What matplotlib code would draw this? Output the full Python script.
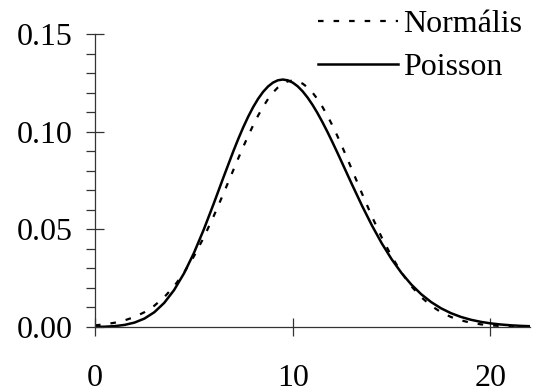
import matplotlib
matplotlib.use("Agg")
import matplotlib.pyplot as plt
from matplotlib.ticker import MultipleLocator

plt.rcParams["font.family"] = ["Liberation Serif", "DejaVu Serif"]

x = [0, 0.5, 1, 1.5, 2, 2.5, 3, 3.5, 4, 4.5, 5, 5.5, 6, 6.5, 7, 7.25, 7.5, 7.75,
     8, 8.25, 8.5, 8.75, 9, 9.25, 9.5, 9.75, 10, 10.25, 10.5, 10.75, 11, 11.25,
     11.5, 11.75, 12, 12.25, 12.5, 12.75, 13, 13.5, 14, 14.5, 15, 15.5, 16,
     16.5, 17, 17.5, 18, 18.5, 19, 19.5, 20, 20.5, 21, 21.5, 22]

normal = [0.00085, 0.00138, 0.00220, 0.00341, 0.00514, 0.00758, 0.01089, 0.01526,
          0.02085, 0.02780, 0.03615, 0.04584, 0.05669, 0.06838, 0.08044, 0.08644,
          0.09230, 0.09795, 0.10329, 0.10825, 0.11274, 0.11668, 0.12001, 0.12266,
          0.12459, 0.12577, 0.12616, 0.12577, 0.12459, 0.12266, 0.12001, 0.11668,
          0.11274, 0.10825, 0.10329, 0.09795, 0.09230, 0.08644, 0.08044, 0.06838,
          0.05669, 0.04584, 0.03615, 0.02780, 0.02085, 0.01526, 0.01089, 0.00758,
          0.00514, 0.00341, 0.00220, 0.00138, 0.00085, 0.00051, 0.00030, 0.00017,
          0.00009]

poisson = [0.00005, 0.00016, 0.00045, 0.00108, 0.00227, 0.00432, 0.00757, 0.01234,
           0.01892, 0.02743, 0.03783, 0.04987, 0.06306, 0.07672, 0.09008, 0.09638,
           0.10230, 0.10773, 0.11260, 0.11683, 0.12035, 0.12312, 0.12511, 0.12630,
           0.12668, 0.12628, 0.12511, 0.12322, 0.12065, 0.11747, 0.11374, 0.10953,
           0.10491, 0.09998, 0.09478, 0.08941, 0.08393, 0.07841, 0.07291, 0.06217,
           0.05208, 0.04288, 0.03472, 0.02766, 0.02170, 0.01676, 0.01276, 0.00958,
           0.00709, 0.00518, 0.00373, 0.00266, 0.00187, 0.00130, 0.00089, 0.00060,
           0.00040]

fig = plt.figure(figsize=(5.37, 3.92), dpi=100)
ax = fig.add_axes([0.1769, 0.1658, 0.8101, 0.7475])

ax.plot(x, normal, color="black", lw=1.6, ls=(0, (2.5, 4.5)), label="Normális")
ax.plot(x, poisson, color="black", lw=1.8, label="Poisson")

ax.set_xlim(0, 22)
ax.set_ylim(0, 0.15)
ax.set_xticks([0, 10, 20])
ax.set_yticks([0.00, 0.05, 0.10, 0.15])
ax.set_yticklabels(["0.00", "0.05", "0.10", "0.15"])
ax.yaxis.set_minor_locator(MultipleLocator(0.01))

for side in ["top", "right"]:
    ax.spines[side].set_visible(False)
for side in ["left", "bottom"]:
    ax.spines[side].set_color("#333333")
    ax.spines[side].set_linewidth(0.9)

ax.tick_params(axis="both", which="major", direction="inout", length=13.5,
               width=0.9, color="#333333", labelsize=23)
ax.tick_params(axis="y", which="minor", direction="out", length=6.5,
               width=0.9, color="#333333")
ax.tick_params(axis="x", which="major", pad=20)
ax.tick_params(axis="y", which="major", pad=9)

fig.legend(loc="upper right", bbox_to_anchor=(0.972, 0.975), frameon=False,
           fontsize=23, handlelength=2.5, handletextpad=0.15, labelspacing=0.43,
           borderpad=0, borderaxespad=0)

fig.savefig("out.png", dpi=100)
